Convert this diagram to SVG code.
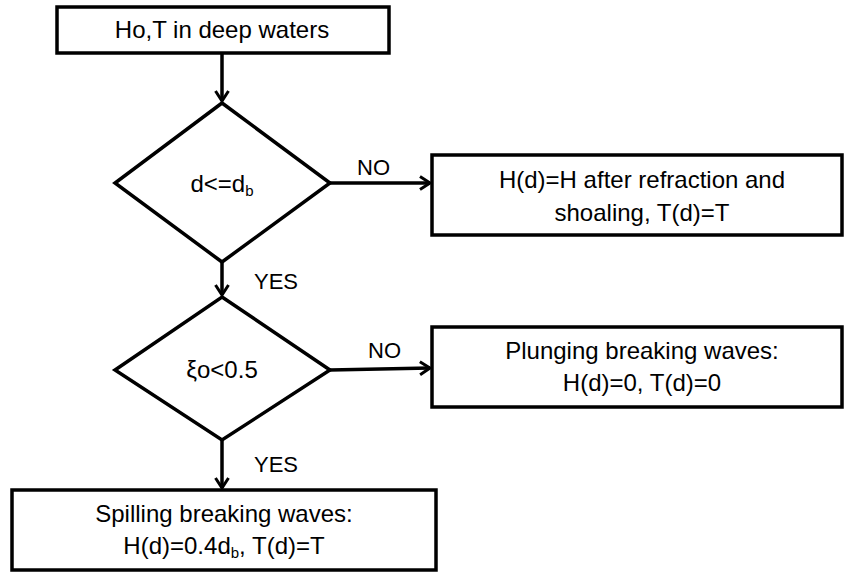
<svg xmlns="http://www.w3.org/2000/svg" width="845" height="572" viewBox="0 0 845 572">
<style>
.box{fill:#fff;stroke:#000;stroke-width:3.5}
.t{font-family:"Liberation Sans",Arial,sans-serif;font-size:24px;fill:#000;text-anchor:middle}
.lbl{font-family:"Liberation Sans",Arial,sans-serif;font-size:22px;fill:#000}
.c{fill:none;stroke:#000;stroke-width:3.5}
</style>
<defs>
<marker id="arr" markerWidth="16" markerHeight="16" refX="12" refY="8" orient="auto" markerUnits="userSpaceOnUse">
<path d="M2,1.5 L12,8 L2,14.5" fill="none" stroke="#000" stroke-width="3"/>
</marker>
</defs>
<rect width="845" height="572" fill="#fff"/>
<g id="connectors">
<line class="c" x1="222" y1="53" x2="222" y2="101" marker-end="url(#arr)"/>
<line class="c" x1="330" y1="183" x2="430" y2="183" marker-end="url(#arr)"/>
<text class="lbl" x="357" y="175">NO</text>
<line class="c" x1="222" y1="262" x2="222" y2="295" marker-end="url(#arr)"/>
<text class="lbl" x="254" y="289">YES</text>
<line class="c" x1="330" y1="370" x2="430" y2="368" marker-end="url(#arr)"/>
<text class="lbl" x="368" y="358">NO</text>
<line class="c" x1="222" y1="440" x2="222" y2="488" marker-end="url(#arr)"/>
<text class="lbl" x="254" y="472">YES</text>
</g>
<g id="start">
<rect class="box" x="57" y="7" width="332" height="46"/>
<text class="t" x="222" y="38">Ho,T in deep waters</text>
</g>
<g id="decision1">
<polygon class="box" points="222,103 330,183 222,262 115,183"/>
<text class="t" x="222" y="192">d&lt;=d<tspan font-size="15" dy="4">b</tspan></text>
</g>
<g id="refraction">
<rect class="box" x="432" y="155" width="410" height="80"/>
<text class="t" x="642" y="188">H(d)=H after refraction and</text>
<text class="t" x="642" y="221">shoaling, T(d)=T</text>
</g>
<g id="decision2">
<polygon class="box" points="222,297 330,370 222,440 115,370"/>
<text class="t" x="222" y="378">ξo&lt;0.5</text>
</g>
<g id="plunging">
<rect class="box" x="432" y="327" width="410" height="80"/>
<text class="t" x="642" y="359">Plunging breaking waves:</text>
<text class="t" x="642" y="391">H(d)=0, T(d)=0</text>
</g>
<g id="spilling">
<rect class="box" x="12" y="490" width="424" height="80"/>
<text class="t" x="224" y="522">Spilling breaking waves:</text>
<text class="t" x="224" y="554">H(d)=0.4d<tspan font-size="15" dy="4">b</tspan><tspan dy="-4">, T(d)=T</tspan></text>
</g>
</svg>
